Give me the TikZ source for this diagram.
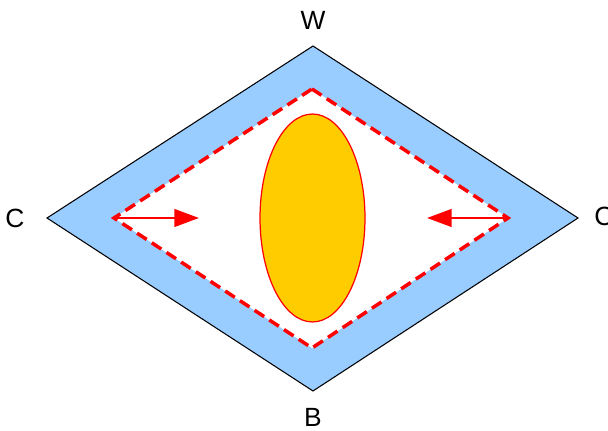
\documentclass[tikz,border=0pt]{standalone}
\usepackage{fontspec}
\setmainfont{Liberation Sans}
\usetikzlibrary{arrows.meta,positioning,calc,shapes.geometric}
\definecolor{rimblue}{RGB}{153,204,255}
\definecolor{coregold}{RGB}{255,204,0}
\begin{document}
\begin{tikzpicture}[
		x=0.02cm, y=-0.02cm,
		lbl/.style={font=\fontsize{15}{17}\selectfont, inner sep=0pt},
		rim/.style={draw=black, fill=rimblue, line width=0.6pt, line join=miter},
		hole/.style={fill=white, draw=red, line width=2pt, dash pattern=on 6.5pt off 3.5pt},
		core/.style={ellipse, draw=red, fill=coregold, line width=0.7pt, inner sep=0pt, minimum width=2.1cm, minimum height=4.16cm},
		push/.style={-{Triangle[length=14pt, width=10pt]}, draw=red, fill=red, line width=1.4pt}
		]
		\useasboundingbox (0,0) rectangle (608,431);
		
		% outer diamond
		\coordinate (ow) at (313,46);
		\coordinate (oe) at (578,218);
		\coordinate (ob) at (313,391);
		\coordinate (oc) at (47,218);
		\draw[rim] (ow) -- (oe) -- (ob) -- (oc) -- cycle;
		
		% inner dashed diamond
		\coordinate (iw) at (312,89);
		\coordinate (ie) at (508,218);
		\coordinate (ib) at (312,348);
		\coordinate (ic) at (114,218);
		\draw[hole] (iw) -- (ie) -- (ib) -- (ic) -- cycle;
		
		% core
		\node[core] (blob) at (312.5,218) {};
		
		% arrows
		\coordinate (lt) at (199,218);
		\coordinate (rt) at (427,218);
		\draw[push] (ic) -- (lt);
		\draw[push] (ie) -- (rt);
		
		% labels
		\node[lbl] (west) at (313,20) {W};
		\node[lbl] (south) at (313,417) {B};
		\node[lbl] (cleft) at (15,218) {C};
		\node[lbl, anchor=west] (cright) at (594,216) {C};
	\end{tikzpicture}
\end{document}
